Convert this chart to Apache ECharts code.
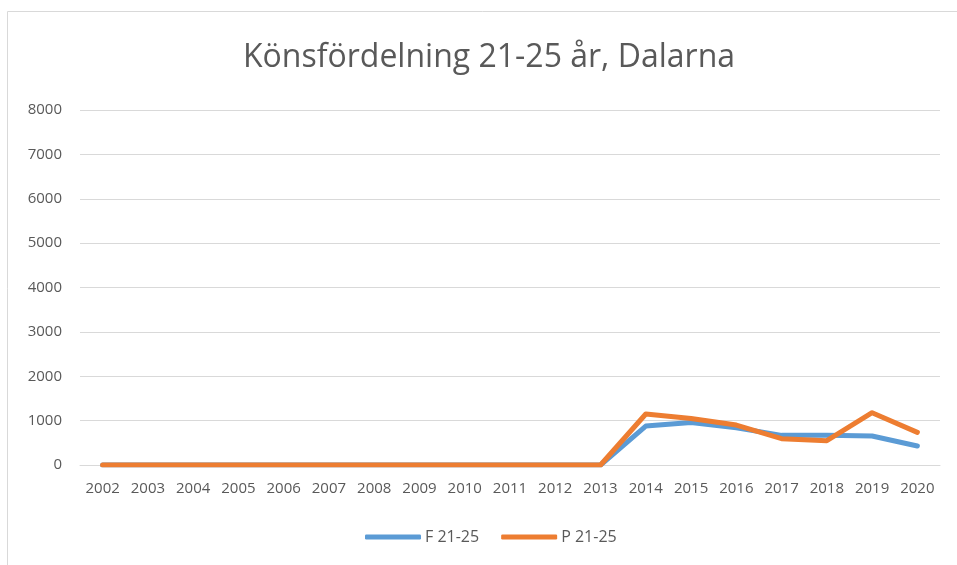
<!DOCTYPE html>
<html><head><meta charset="utf-8">
<script src="https://cdn.jsdelivr.net/npm/echarts@6/dist/echarts.min.js"></script>
<style>html,body{margin:0;padding:0;background:#fff}#c{width:957px;height:565px}</style>
</head><body><div id="c"></div>
<script>
const years = ['2002','2003','2004','2005','2006','2007','2008','2009','2010','2011','2012','2013','2014','2015','2016','2017','2018','2019','2020'];
const seriesF = [0,0,0,0,0,0,0,0,0,0,0,0,878,960,840,668,668,653,428];
const seriesP = [0,0,0,0,0,0,0,0,0,0,0,0,1149,1050,900,593,548,1178,736];
const titleText = 'Könsfördelning 21-25 år, Dalarna';
const nameF = 'F 21-25', nameP = 'P 21-25';
const font = 'Open Sans';
const chart = echarts.init(document.getElementById('c'));
chart.setOption({
  animation:false,
  graphic:[{type:'rect',shape:{x:7.5,y:11.5,width:1000,height:600},style:{fill:'none',stroke:'#d9d9d9',lineWidth:1},silent:true}],
  title:{text:titleText,left:238,top:37,textStyle:{fontFamily:font,fontSize:32,fontWeight:'normal',color:'#595959'}},
  legend:{bottom:15,left:360,itemWidth:56,itemHeight:5,itemGap:22,icon:'roundRect',
    textStyle:{fontFamily:font,fontSize:16,color:'#595959',padding:[0,0,0,-1]},
    data:[{name:nameF,itemStyle:{color:'#5B9BD5'}},{name:nameP,itemStyle:{color:'#ED7D31'}}]},
  grid:{left:80,right:17,top:110,bottom:100,containLabel:false},
  xAxis:{type:'category',data:years,boundaryGap:true,
    axisLine:{show:true,lineStyle:{color:'#d9d9d9'}},axisTick:{show:false},
    axisLabel:{fontFamily:font,fontSize:15,color:'#595959',margin:16,interval:0}},
  yAxis:{type:'value',min:0,max:8000,interval:1000,
    axisLine:{show:false},axisTick:{show:false},
    splitLine:{lineStyle:{color:'#d9d9d9',width:1}},
    axisLabel:{fontFamily:font,fontSize:15,color:'#595959',margin:18,formatter:v=>String(v)}},
  series:[
    {name:nameF,type:'line',data:seriesF,symbol:'none',lineStyle:{width:5,color:'#5B9BD5',cap:'round',join:'round'},itemStyle:{color:'#5B9BD5'}},
    {name:nameP,type:'line',data:seriesP,symbol:'none',lineStyle:{width:5,color:'#ED7D31',cap:'round',join:'round'},itemStyle:{color:'#ED7D31'}}
  ]
});
</script></body></html>
